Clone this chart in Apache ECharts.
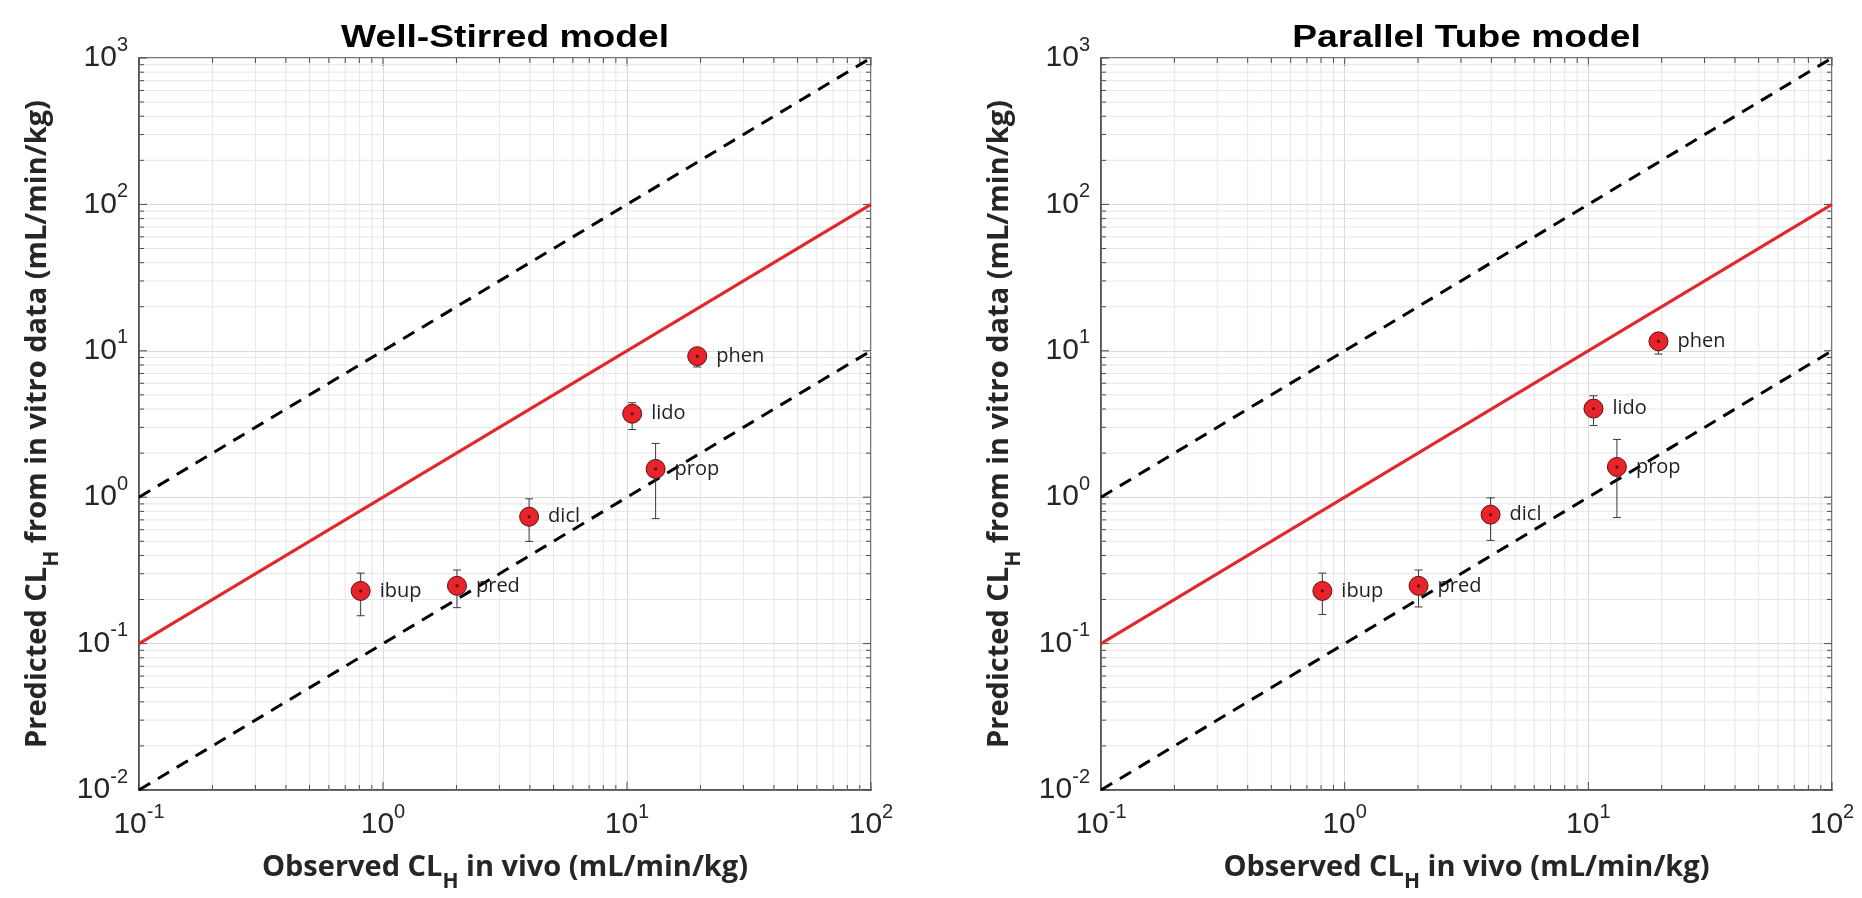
<!DOCTYPE html>
<html>
<head>
<meta charset="utf-8">
<script src="https://cdn.jsdelivr.net/npm/echarts@6/dist/echarts.min.js"></script>
<style>
  html, body { margin: 0; padding: 0; background: #ffffff; }
  #chart { width: 1862px; height: 898px; }
</style>
</head>
<body>
<div id="chart"></div>
<script>
// Hepatic clearance: observed in vivo vs predicted from in vitro data
const drugs = ['ibup', 'pred', 'dicl', 'lido', 'prop', 'phen'];
const observedCL = [0.81, 2.01, 3.97, 10.5, 13.1, 19.4];

// Well-Stirred model predictions and error bar limits
const wsPredicted = [0.229, 0.248, 0.736, 3.72, 1.56, 9.19];
const wsLow = [0.155, 0.176, 0.499, 2.90, 0.714, 7.75];
const wsHigh = [0.303, 0.318, 0.975, 4.42, 2.33, 10.3];

// Parallel Tube model predictions and error bar limits
const ptPredicted = [0.229, 0.248, 0.760, 4.03, 1.61, 11.6];
const ptLow = [0.158, 0.178, 0.507, 3.09, 0.726, 9.5];
const ptHigh = [0.303, 0.318, 0.99, 4.93, 2.48, 13.2];

const panelTitles = ['Well-Stirred model', 'Parallel Tube model'];

// Axis ranges and tick values
const xRange = [0.1, 100];
const yRange = [0.01, 1000];
const xMajorTicks = [0.1, 1, 10, 100];
const yMajorTicks = [0.01, 0.1, 1, 10, 100, 1000];
const xMinorTicks = [0.2, 0.3, 0.4, 0.5, 0.6, 0.7, 0.8, 0.9,
                     2, 3, 4, 5, 6, 7, 8, 9,
                     20, 30, 40, 50, 60, 70, 80, 90];
const yMinorTicks = [0.02, 0.03, 0.04, 0.05, 0.06, 0.07, 0.08, 0.09,
                     0.2, 0.3, 0.4, 0.5, 0.6, 0.7, 0.8, 0.9,
                     2, 3, 4, 5, 6, 7, 8, 9,
                     20, 30, 40, 50, 60, 70, 80, 90,
                     200, 300, 400, 500, 600, 700, 800, 900];

// Reference lines: unity and ten-fold bounds
const unityLine = [[0.1, 0.1], [100, 100]];
const upperFoldLine = [[0.1, 1], [100, 1000]];
const lowerFoldLine = [[0.1, 0.01], [100, 10]];

const panels = [
  { predicted: wsPredicted, low: wsLow, high: wsHigh },
  { predicted: ptPredicted, low: ptLow, high: ptHigh }
];

const gridBoxes = [
  { left: 139, top: 58, width: 732, height: 739 },
  { left: 1101, top: 58, width: 731, height: 739 }
];

const TICK_FONT = '"Liberation Sans", Arial, sans-serif';
const NAME_FONT = '"Open Sans", Lato, sans-serif';
const AXIS_COLOR = '#4a4a4a';

function powerLabel(v) {
  return '{b|10}{s|' + Math.round(Math.log10(v)) + '}';
}
const powerRich = {
  b: { fontFamily: TICK_FONT, fontSize: 30, lineHeight: 46, color: '#262626' },
  s: { fontFamily: TICK_FONT, fontSize: 20, lineHeight: 20, verticalAlign: 'top', color: '#262626' }
};
const nameRich = {
  t: { fontFamily: NAME_FONT, fontWeight: 'bold', fontSize: 29, lineHeight: 50, color: '#262626' },
  sub: { fontFamily: NAME_FONT, fontWeight: 'bold', fontSize: 21, lineHeight: 21, verticalAlign: 'bottom', color: '#262626' }
};

// Minor grid lines plus inward ticks on all four sides of the box
function guideRenderer(orient) {
  return function (params, api) {
    const v = api.value(orient === 'x' ? 0 : 1);
    const major = api.value(2) === 1;
    const len = major ? 8 : 5;
    let a, b, ta, tb;
    if (orient === 'x') {
      a = api.coord([v, yRange[0]]);
      b = api.coord([v, yRange[1]]);
      ta = [a[0], a[1] - len];
      tb = [b[0], b[1] + len];
    } else {
      a = api.coord([xRange[0], v]);
      b = api.coord([xRange[1], v]);
      ta = [a[0] + len, a[1]];
      tb = [b[0] - len, b[1]];
    }
    const children = [];
    if (!major) {
      children.push({ type: 'line', shape: { x1: a[0], y1: a[1], x2: b[0], y2: b[1] },
        style: { stroke: '#e6e6e6', lineWidth: 1 } });
    }
    children.push({ type: 'line', shape: { x1: a[0], y1: a[1], x2: ta[0], y2: ta[1] },
      style: { stroke: AXIS_COLOR, lineWidth: 1 } });
    children.push({ type: 'line', shape: { x1: b[0], y1: b[1], x2: tb[0], y2: tb[1] },
      style: { stroke: AXIS_COLOR, lineWidth: 1 } });
    return { type: 'group', children: children };
  };
}

function errorBarRenderer(params, api) {
  const x = api.value(0);
  const lo = api.coord([x, api.value(1)]);
  const hi = api.coord([x, api.value(2)]);
  const cap = 4;
  const st = { stroke: '#3a3a3a', lineWidth: 1 };
  return {
    type: 'group',
    children: [
      { type: 'line', shape: { x1: lo[0], y1: lo[1], x2: hi[0], y2: hi[1] }, style: st },
      { type: 'line', shape: { x1: lo[0] - cap, y1: lo[1], x2: lo[0] + cap, y2: lo[1] }, style: st },
      { type: 'line', shape: { x1: hi[0] - cap, y1: hi[1], x2: hi[0] + cap, y2: hi[1] }, style: st }
    ]
  };
}

const grids = [], xAxes = [], yAxes = [], series = [], graphics = [];

panels.forEach(function (panel, i) {
  const box = gridBoxes[i];
  grids.push(Object.assign({
    show: true, borderColor: AXIS_COLOR, borderWidth: 1.5, backgroundColor: '#ffffff', containLabel: false
  }, box));

  xAxes.push({
    gridIndex: i, type: 'log', logBase: 10, min: xRange[0], max: xRange[1],
    axisLine: { show: true, lineStyle: { color: AXIS_COLOR, width: 1.5 } },
    axisTick: { show: false },
    splitLine: { show: true, lineStyle: { color: '#dadada', width: 1 } },
    axisLabel: { formatter: powerLabel, rich: powerRich, margin: 12, showMinLabel: true, showMaxLabel: true },
    name: '{t|Observed CL}{sub|H}{t| in vivo (mL/min/kg)}',
    nameLocation: 'middle', nameGap: 53,
    nameTextStyle: { rich: nameRich }
  });

  yAxes.push({
    gridIndex: i, type: 'log', logBase: 10, min: yRange[0], max: yRange[1],
    axisLine: { show: true, lineStyle: { color: AXIS_COLOR, width: 1.5 } },
    axisTick: { show: false },
    splitLine: { show: true, lineStyle: { color: '#dadada', width: 1 } },
    axisLabel: { formatter: powerLabel, rich: powerRich, margin: 11, showMinLabel: true, showMaxLabel: true },
    name: '{t|Predicted CL}{sub|H}{t| from in vitro data (mL/min/kg)}',
    nameLocation: 'middle', nameGap: 76,
    nameTextStyle: { rich: nameRich }
  });

  series.push({
    type: 'custom', xAxisIndex: i, yAxisIndex: i, silent: true, z: 1,
    renderItem: guideRenderer('x'),
    data: xMinorTicks.map(v => [v, yRange[0], 0]).concat(xMajorTicks.map(v => [v, yRange[0], 1]))
  });
  series.push({
    type: 'custom', xAxisIndex: i, yAxisIndex: i, silent: true, z: 1,
    renderItem: guideRenderer('y'),
    data: yMinorTicks.map(v => [xRange[0], v, 0]).concat(yMajorTicks.map(v => [xRange[0], v, 1]))
  });

  series.push({
    type: 'line', xAxisIndex: i, yAxisIndex: i, silent: true, z: 3, symbol: 'none',
    data: upperFoldLine, lineStyle: { color: '#000000', width: 3, type: [13, 9] }
  });
  series.push({
    type: 'line', xAxisIndex: i, yAxisIndex: i, silent: true, z: 3, symbol: 'none',
    data: lowerFoldLine, lineStyle: { color: '#000000', width: 3, type: [13, 9] }
  });
  series.push({
    type: 'line', xAxisIndex: i, yAxisIndex: i, silent: true, z: 3, symbol: 'none',
    data: unityLine, lineStyle: { color: '#e3262b', width: 3 }
  });

  series.push({
    type: 'custom', xAxisIndex: i, yAxisIndex: i, silent: true, z: 4,
    renderItem: errorBarRenderer,
    data: observedCL.map((x, k) => [x, panel.low[k], panel.high[k]])
  });

  series.push({
    type: 'scatter', xAxisIndex: i, yAxisIndex: i, silent: true, z: 5,
    symbol: 'circle', symbolSize: 19,
    itemStyle: { color: '#e8232a', borderColor: '#5a1416', borderWidth: 1, opacity: 1 },
    label: {
      show: true, position: 'right', distance: 9, formatter: '{b}',
      fontFamily: '"Open Sans", sans-serif', fontSize: 20, color: '#1f1f1f'
    },
    data: observedCL.map((x, k) => ({ name: drugs[k], value: [x, panel.predicted[k]] }))
  });
  series.push({
    type: 'scatter', xAxisIndex: i, yAxisIndex: i, silent: true, z: 6,
    symbol: 'circle', symbolSize: 3,
    itemStyle: { color: '#111111' },
    data: observedCL.map((x, k) => [x, panel.predicted[k]])
  });

  // Panel title, widened to the figure's lettering
  graphics.push({
    type: 'text', x: box.left + box.width / 2, y: 54, scaleX: 1.2, silent: true,
    style: {
      text: panelTitles[i], fill: '#000000',
      font: 'bold 31px "Liberation Sans", Arial, sans-serif',
      textAlign: 'center', textVerticalAlign: 'bottom', align: 'center', verticalAlign: 'bottom'
    }
  });
});

const chart = echarts.init(document.getElementById('chart'), null, { renderer: 'canvas' });
chart.setOption({
  animation: false,
  backgroundColor: '#ffffff',
  grid: grids,
  xAxis: xAxes,
  yAxis: yAxes,
  series: series,
  graphic: graphics
});
</script>
</body>
</html>
